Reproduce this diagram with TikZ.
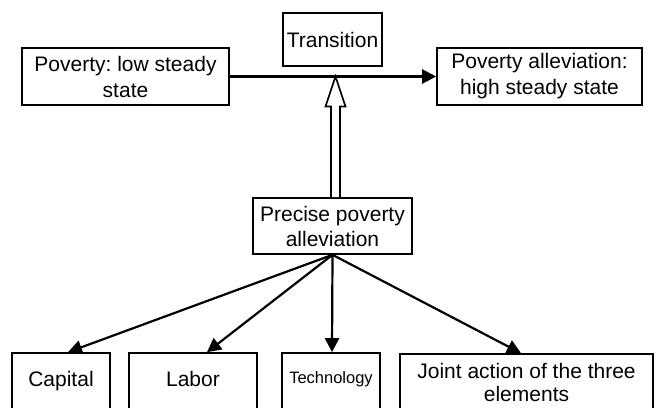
\documentclass[tikz,border=0pt]{standalone}
\usepackage{fontspec}
\setmainfont{Liberation Sans}
\usetikzlibrary{arrows.meta,calc}
\frenchspacing

\begin{document}
\begin{tikzpicture}[x=1pt,y=-1pt,
  box/.style={draw, line width=1.6pt, align=center, inner sep=0pt,
    font=\fontsize{21}{26}\selectfont},
  leaf/.style={box, minimum height=56pt, text height=15pt, text depth=4pt},
  arr/.style={line width=2.2pt, -{Triangle[length=14pt,width=14pt]}},
  hollow/.style={draw, fill=white, line width=1.6pt, line join=miter}]
\useasboundingbox (0,0) rectangle (656,407);
\clip (0,0) rectangle (656,407);

% top row
\node[box, minimum width=207pt, minimum height=57pt] (low) at (125.5,76.5) {Poverty: low steady\\state};
\node[box, minimum width=99pt, minimum height=53pt] (trans) at (332.5,39.5) {Transition};
\node[box, minimum width=205pt, minimum height=57pt] (high) at (539.5,76.5) {Poverty alleviation:\\high steady state};
\draw[arr] (low.east) -- (high.west);

% middle
\node[box, minimum width=159pt, minimum height=56pt, font=\fontsize{21}{25}\selectfont] (precise) at (332.5,226) {Precise poverty\\alleviation};
\coordinate (base) at ($(precise.north)+(3,0)$);
\coordinate (tip) at (base |- low.east);
\draw[hollow] ($(base)+(-4.5,0)$) -- ($(tip)+(-4.5,30)$) -- ($(tip)+(-10,30)$) -- (tip)
  -- ($(tip)+(10,30)$) -- ($(tip)+(4.5,30)$) -- ($(base)+(4.5,0)$);

% bottom row
\node[leaf, minimum width=98pt] (capital) at (61,381) {Capital};
\node[leaf, minimum width=128pt] (labor) at (193,381) {Labor};
\node[leaf, minimum width=98pt, font=\fontsize{16.5}{20}\selectfont, text height=12pt, text depth=8pt] (tech) at (331,381) {Technology};
\node[box, minimum width=253pt, minimum height=56pt, font=\fontsize{21}{23}\selectfont] (joint) at (526.5,382) {Joint action of the three\\elements};

\draw[arr] (precise.south) -- ($(capital.north)+(7,0)$);
\draw[arr] (precise.south) -- ($(labor.north)+(14,0)$);
\draw[arr] (precise.south) -- ($(tech.north)+(1,0)$);
\draw[arr] (precise.south) -- ($(joint.north)+(-5.5,0)$);
\end{tikzpicture}
\end{document}
